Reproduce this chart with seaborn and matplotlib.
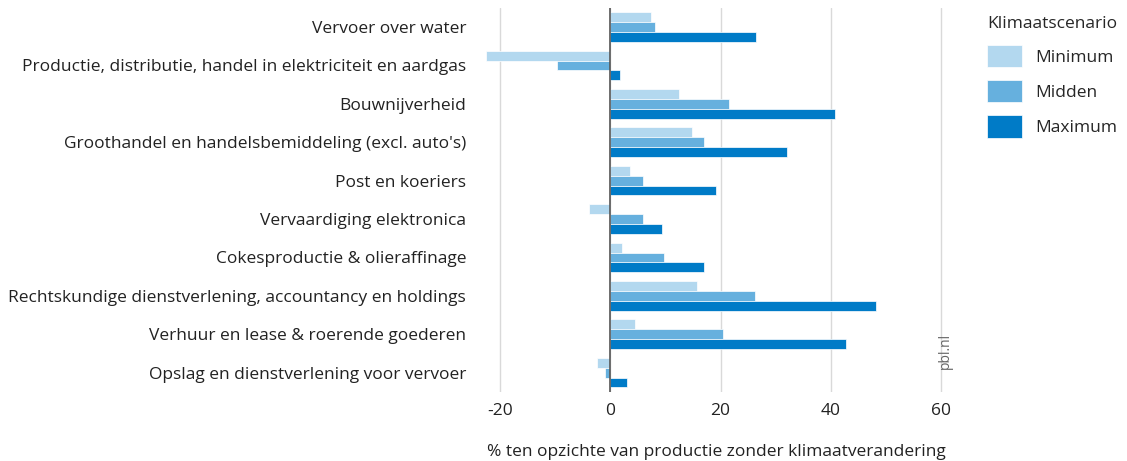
import pandas as pd
import numpy as np
import matplotlib.pyplot as plt
import seaborn as sns

sectoren = ['Vervoer over water',
            'Productie, distributie, handel in elektriciteit en aardgas',
            'Bouwnijverheid',
            "Groothandel en handelsbemiddeling (excl. auto's)",
            'Post en koeriers',
            'Vervaardiging elektronica',
            'Cokesproductie & olieraffinage',
            'Rechtskundige dienstverlening, accountancy en holdings',
            'Verhuur en lease & roerende goederen',
            'Opslag en dienstverlening voor vervoer']

scenarios = ['Minimum', 'Midden', 'Maximum']

minimum = [7.3, -22.5, 12.5, 14.9, 3.6, -3.8, 2.1, 15.8, 4.4, -2.5]
midden = [8.1, -9.6, 21.6, 16.9, 5.9, 6.0, 9.8, 26.3, 20.5, -0.9]
maximum = [26.5, 1.8, 40.7, 32.0, 19.2, 9.4, 16.9, 48.2, 42.8, 3.1]

kleuren = ['#b3d8ef', '#66b0de', '#007bc7']

df = pd.DataFrame({'sector': sectoren * 3,
                   'scenario': np.repeat(scenarios, len(sectoren)),
                   'waarde': minimum + midden + maximum})

sns.set_style('white')
plt.rcParams['font.family'] = ['Open Sans', 'DejaVu Sans']
plt.rcParams['axes.unicode_minus'] = False

fig = plt.figure(figsize=(11.27, 4.61), dpi=100)
ax = fig.add_axes([0.426, 0.15, 0.419, 0.833])

sns.barplot(data=df, x='waarde', y='sector', hue='scenario', orient='h',
            hue_order=scenarios, palette=kleuren, saturation=1, width=0.77,
            edgecolor='white', linewidth=0.5, errorbar=None, ax=ax, zorder=3)

ax.set_xlim(-23.6, 62)
ax.set_xticks([-20, 0, 20, 40, 60])
ax.grid(axis='x', color='#d9d9d9', linewidth=1, zorder=0)
ax.axvline(0, color='#555555', linewidth=1.2, zorder=4)
sns.despine(ax=ax, left=True, bottom=True)
ax.tick_params(axis='both', length=0, labelsize=12.5, colors='#222222')
ax.tick_params(axis='y', pad=10)
ax.tick_params(axis='x', pad=8)
ax.set_ylabel('')
ax.set_xlabel('% ten opzichte van productie zonder klimaatverandering',
              fontsize=12.5, labelpad=18, color='#222222')

ax.text(0.985, 0.06, 'pbl.nl', transform=ax.transAxes, rotation=90,
        fontsize=10, color='#666666', ha='center', va='bottom')

leg = ax.legend(title='Klimaatscenario', loc='upper left',
                bbox_to_anchor=(1.04, 1.02), frameon=False, fontsize=12.5,
                title_fontsize=12.5, handlelength=2.0, handleheight=1.6,
                handletextpad=0.8, labelspacing=0.75, alignment='left')

plt.savefig('out.png', dpi=100)
